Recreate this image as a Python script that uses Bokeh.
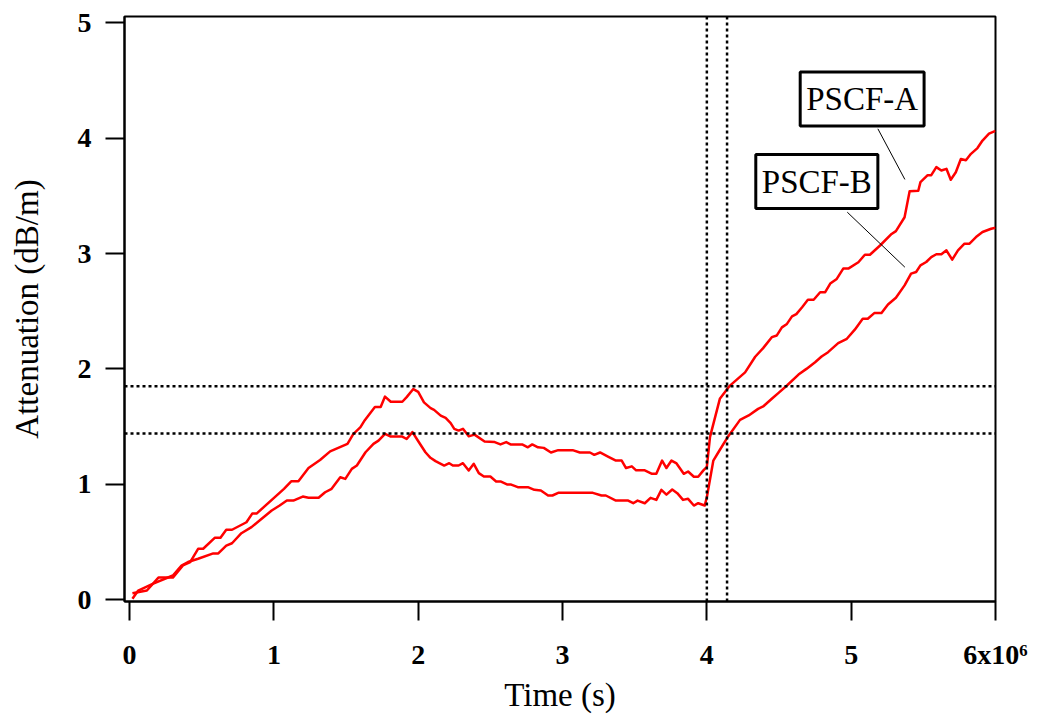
from bokeh.plotting import figure
from bokeh.models import Range1d, FixedTicker, Span, Label
from bokeh.embed import file_html
from bokeh.resources import INLINE

# ---- data (time in units of 1e6 s, attenuation in dB/m) ----
time_a = [0.02, 0.12, 0.20, 0.30, 0.37, 0.42, 0.475, 0.51, 0.59, 0.63,
          0.67, 0.71, 0.81, 0.85, 0.88, 1.07, 1.12, 1.17, 1.24, 1.32,
          1.39, 1.51, 1.55, 1.60, 1.63, 1.70, 1.74, 1.77, 1.81, 1.89,
          1.92, 1.966, 2.00, 2.04, 2.086, 2.11, 2.156, 2.19, 2.225, 2.25,
          2.28, 2.31, 2.35, 2.39, 2.46, 2.53, 2.57, 2.61, 2.64, 2.72,
          2.76, 2.79, 2.83, 2.87, 2.92, 2.97, 3.07, 3.12, 3.19, 3.22,
          3.26, 3.315, 3.37, 3.41, 3.44, 3.48, 3.51, 3.57, 3.62, 3.65,
          3.69, 3.72, 3.755, 3.79, 3.84, 3.87, 3.91, 3.94, 3.976, 4.00,
          4.022, 4.09, 4.16, 4.265, 4.335, 4.39, 4.45, 4.485, 4.52, 4.555,
          4.59, 4.62, 4.66, 4.70, 4.74, 4.785, 4.82, 4.855, 4.90, 4.945,
          4.98, 5.05, 5.095, 5.13, 5.20, 5.28, 5.31, 5.37, 5.405, 5.465,
          5.48, 5.53, 5.555, 5.59, 5.625, 5.66, 5.69, 5.725, 5.76, 5.795,
          5.83, 5.875, 5.91, 5.955, 6.0]
atten_a = [0.055, 0.078, 0.19, 0.19, 0.295, 0.325, 0.44, 0.44, 0.535, 0.535,
           0.605, 0.605, 0.67, 0.745, 0.745, 0.96, 1.025, 1.025, 1.14, 1.21,
           1.285, 1.35, 1.435, 1.495, 1.555, 1.67, 1.67, 1.76, 1.715, 1.715,
           1.755, 1.825, 1.80, 1.71, 1.66, 1.645, 1.595, 1.575, 1.53, 1.48,
           1.465, 1.48, 1.415, 1.43, 1.37, 1.365, 1.345, 1.365, 1.345, 1.345,
           1.32, 1.345, 1.32, 1.315, 1.275, 1.295, 1.295, 1.275, 1.275, 1.255,
           1.275, 1.24, 1.205, 1.205, 1.14, 1.155, 1.12, 1.12, 1.09, 1.09,
           1.205, 1.14, 1.205, 1.18, 1.09, 1.11, 1.065, 1.065, 1.12, 1.15,
           1.41, 1.74, 1.855, 1.97, 2.105, 2.18, 2.275, 2.29, 2.36, 2.39,
           2.455, 2.475, 2.535, 2.6, 2.6, 2.665, 2.665, 2.74, 2.78, 2.87,
           2.87, 2.925, 2.99, 2.99, 3.07, 3.17, 3.195, 3.315, 3.54, 3.545,
           3.62, 3.68, 3.68, 3.75, 3.72, 3.735, 3.64, 3.705, 3.82, 3.81,
           3.865, 3.915, 3.98, 4.04, 4.065]

time_b = [0.02, 0.06, 0.16, 0.30, 0.36, 0.405, 0.475, 0.58, 0.615, 0.67,
          0.71, 0.775, 0.845, 0.905, 0.985, 1.04, 1.09, 1.135, 1.20, 1.24,
          1.31, 1.355, 1.40, 1.46, 1.495, 1.54, 1.575, 1.635, 1.69, 1.725,
          1.77, 1.81, 1.89, 1.92, 1.96, 2.005, 2.05, 2.085, 2.12, 2.18,
          2.215, 2.24, 2.28, 2.31, 2.35, 2.385, 2.42, 2.455, 2.50, 2.54,
          2.57, 2.615, 2.64, 2.69, 2.76, 2.805, 2.85, 2.90, 2.93, 2.97,
          3.21, 3.27, 3.30, 3.37, 3.455, 3.49, 3.52, 3.57, 3.61, 3.65,
          3.685, 3.72, 3.76, 3.795, 3.835, 3.87, 3.91, 3.94, 3.985, 4.00,
          4.045, 4.08, 4.14, 4.23, 4.29, 4.355, 4.39, 4.45, 4.495, 4.555,
          4.635, 4.69, 4.75, 4.795, 4.84, 4.91, 4.97, 5.025, 5.08, 5.115,
          5.16, 5.21, 5.255, 5.31, 5.37, 5.415, 5.45, 5.48, 5.52, 5.555,
          5.59, 5.625, 5.66, 5.70, 5.74, 5.785, 5.82, 5.865, 5.91, 5.97,
          6.0]
atten_b = [0.006, 0.078, 0.136, 0.208, 0.295, 0.325, 0.353, 0.40, 0.40, 0.468,
           0.488, 0.575, 0.628, 0.69, 0.772, 0.815, 0.858, 0.858, 0.893, 0.882,
           0.882, 0.93, 0.96, 1.06, 1.046, 1.133, 1.162, 1.277, 1.35, 1.378,
           1.437, 1.413, 1.413, 1.392, 1.452, 1.364, 1.277, 1.229, 1.20, 1.162,
           1.182, 1.162, 1.162, 1.182, 1.119, 1.177, 1.096, 1.067, 1.067, 1.024,
           1.024, 0.998, 0.998, 0.974, 0.974, 0.951, 0.945, 0.902, 0.902, 0.925,
           0.925, 0.902, 0.902, 0.858, 0.858, 0.835, 0.858, 0.835, 0.882, 0.864,
           0.951, 0.910, 0.954, 0.922, 0.864, 0.873, 0.815, 0.835, 0.815, 0.887,
           1.205, 1.277, 1.40, 1.558, 1.596, 1.653, 1.674, 1.741, 1.79, 1.856,
           1.951, 2.0, 2.058, 2.107, 2.145, 2.223, 2.261, 2.34, 2.435, 2.435,
           2.484, 2.484, 2.559, 2.617, 2.724, 2.826, 2.84, 2.898, 2.927, 2.97,
           2.994, 2.994, 3.028, 2.947, 3.028, 3.086, 3.086, 3.143, 3.187, 3.215,
           3.224]

x_ticks = [0, 1, 2, 3, 4, 5, 6]
x_tick_labels = ["0", "1", "2", "3", "4", "5", "6x10\u2076"]
y_ticks = [0, 1, 2, 3, 4, 5]

# dotted reference markers
ref_times = [4.0, 4.14]
ref_attens = [1.44, 1.85]

# callout labels and their leader lines
label_texts = ["PSCF-A", "PSCF-B"]
label_x = [5.076, 4.762]
label_y = [4.341, 3.625]
leader_x0 = [5.185, 4.973]
leader_y0 = [4.082, 3.359]
leader_x1 = [5.372, 5.372]
leader_y1 = [3.643, 2.882]

SERIF = "Liberation Serif"

p = figure(width=1029, height=716, output_backend="svg", toolbar_location=None,
           x_range=Range1d(-0.035, 6.0), y_range=Range1d(-0.0173, 5.056),
           min_border_left=124, min_border_right=34, min_border_top=16,
           min_border_bottom=115)
p.grid.visible = False
p.background_fill_color = "white"
p.border_fill_color = "white"
p.outline_line_color = "black"
p.outline_line_width = 2
p.outline_line_alpha = 1.0

for ax in (p.xaxis[0], p.yaxis[0]):
    ax.axis_line_color = "black"
    ax.axis_line_width = 2
    ax.major_tick_line_color = "black"
    ax.major_tick_line_width = 2
    ax.major_tick_out = 19
    ax.major_tick_in = 0
    ax.minor_tick_out = 0
    ax.minor_tick_in = 0
    ax.major_label_text_font = SERIF
    ax.major_label_text_font_style = "bold"
    ax.major_label_text_font_size = "28px"
    ax.major_label_text_color = "black"
    ax.axis_label_text_font = SERIF
    ax.axis_label_text_font_style = "normal"
    ax.axis_label_text_font_size = "33px"
    ax.axis_label_text_color = "black"

p.xaxis.ticker = FixedTicker(ticks=x_ticks)
p.xaxis.major_label_overrides = {t: s for t, s in zip(x_ticks, x_tick_labels)}
p.yaxis.ticker = FixedTicker(ticks=y_ticks)
p.xaxis.axis_label = "Time (s)"
p.yaxis.axis_label = "Attenuation (dB/m)"
p.xaxis.major_label_standoff = 18
p.xaxis.axis_label_standoff = 4
p.yaxis.major_label_standoff = 14
p.yaxis.axis_label_standoff = 30

for t in ref_times:
    p.add_layout(Span(location=t, dimension="height", line_color="black",
                      line_width=2.5, line_dash="3 3"))
for a in ref_attens:
    p.add_layout(Span(location=a, dimension="width", line_color="black",
                      line_width=2.5, line_dash="3 3"))

p.line(time_a, atten_a, line_color="#ff0000", line_width=2.5, line_join="round")
p.line(time_b, atten_b, line_color="#ff0000", line_width=2.5, line_join="round")

p.segment(x0=leader_x0, y0=leader_y0, x1=leader_x1, y1=leader_y1,
          line_color="black", line_width=1)

for txt, lx, ly in zip(label_texts, label_x, label_y):
    p.add_layout(Label(x=lx, y=ly, text=txt, text_align="center",
                       text_baseline="middle", text_font=SERIF,
                       text_font_size="33px", text_color="black",
                       border_line_color="black", border_line_width=3,
                       background_fill_color="white",
                       padding=dict(left=6, right=6, top=9, bottom=9)))

open("out.html", "w").write(file_html(p, INLINE))
